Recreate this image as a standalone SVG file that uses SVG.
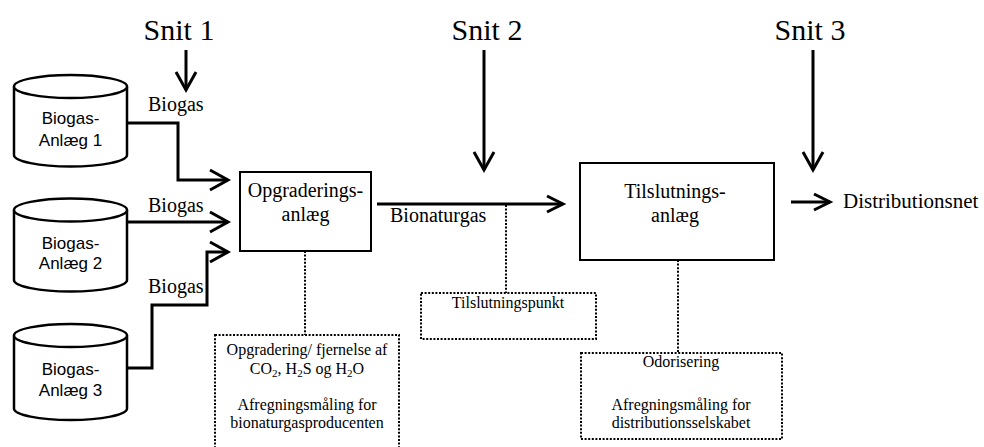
<svg xmlns="http://www.w3.org/2000/svg" width="984" height="447" viewBox="0 0 984 447">
<style>
.serif{font-family:"Liberation Serif","Times New Roman",serif;fill:#000}
.sans{font-family:"Liberation Sans",Arial,sans-serif;fill:#000;font-size:17px}
.snit{font-size:30px}
.lbl{font-size:20px}
.note{font-size:16px}
.box{fill:#fff;stroke:#000;stroke-width:2}
.cyl{fill:#fff;stroke:#000;stroke-width:2.5}
.dot{fill:none;stroke:#000;stroke-width:2;stroke-dasharray:2 1.6}
.con{fill:none;stroke:#000;stroke-width:3}
</style>
<defs>
<marker id="chev" viewBox="0 0 24 24" refX="20" refY="12" markerWidth="24" markerHeight="24" markerUnits="userSpaceOnUse" orient="auto" overflow="visible">
<path d="M2,2 L20,12 L2,22" fill="none" stroke="#000" stroke-width="3"/>
</marker>
<marker id="sm" viewBox="0 0 24 24" refX="20" refY="12" markerWidth="24" markerHeight="24" markerUnits="userSpaceOnUse" orient="auto" overflow="visible">
<path d="M4,4 L20,12 L4,20" fill="none" stroke="#000" stroke-width="3"/>
</marker>
</defs>
<rect width="984" height="447" fill="#fff"/>

<g id="connectors">
<polyline class="con" points="127,123 178,123 178,180 228,180" marker-end="url(#chev)"/>
<polyline class="con" points="127,222 228,222" marker-end="url(#chev)"/>
<polyline class="con" points="127,368 152,368 152,305 207,305 207,252 228,252" marker-end="url(#chev)"/>
<line class="con" x1="377" y1="204" x2="563" y2="204" marker-end="url(#sm)"/>
<line class="con" x1="791" y1="202" x2="830" y2="202" marker-end="url(#sm)"/>
<line class="con" x1="186" y1="50" x2="186" y2="90" marker-end="url(#chev)"/>
<line class="con" x1="484" y1="50" x2="484" y2="170" marker-end="url(#chev)"/>
<line class="con" x1="813" y1="50" x2="813" y2="170" marker-end="url(#chev)"/>
<line class="dot" x1="305" y1="251" x2="305" y2="335"/>
<line class="dot" x1="506" y1="205" x2="506" y2="293"/>
<line class="dot" x1="678" y1="260" x2="678" y2="353"/>
<text class="serif lbl" x="148" y="111">Biogas</text>
<text class="serif lbl" x="148" y="212">Biogas</text>
<text class="serif lbl" x="148" y="293">Biogas</text>
<text class="serif lbl" x="390" y="222">Bionaturgas</text>
</g>

<g id="snit1"><text class="serif snit" x="179" y="40" text-anchor="middle">Snit 1</text></g>
<g id="snit2"><text class="serif snit" x="487" y="40" text-anchor="middle">Snit 2</text></g>
<g id="snit3"><text class="serif snit" x="810" y="40" text-anchor="middle">Snit 3</text></g>

<g id="anlaeg1">
<path class="cyl" d="M14,86.5 L14,155 A56.5,11.5 0 0 0 127,155 L127,86.5"/>
<ellipse class="cyl" cx="70.5" cy="86.5" rx="56.5" ry="11.5"/>
<text class="sans" x="70.5" y="124" text-anchor="middle">Biogas-</text>
<text class="sans" x="70.5" y="146" text-anchor="middle">Anlæg 1</text>
</g>
<g id="anlaeg2">
<path class="cyl" d="M14,210 L14,280 A56.5,11.5 0 0 0 127,280 L127,210"/>
<ellipse class="cyl" cx="70.5" cy="210" rx="56.5" ry="11.5"/>
<text class="sans" x="70.5" y="249" text-anchor="middle">Biogas-</text>
<text class="sans" x="70.5" y="269" text-anchor="middle">Anlæg 2</text>
</g>
<g id="anlaeg3">
<path class="cyl" d="M14,335.5 L14,408.5 A56.5,11.5 0 0 0 127,408.5 L127,335.5"/>
<ellipse class="cyl" cx="70.5" cy="335.5" rx="56.5" ry="11.5"/>
<text class="sans" x="70.5" y="375" text-anchor="middle">Biogas-</text>
<text class="sans" x="70.5" y="396" text-anchor="middle">Anlæg 3</text>
</g>

<g id="opgraderingsanlaeg">
<rect class="box" x="240" y="172" width="131" height="79"/>
<text class="serif lbl" x="305.5" y="197" text-anchor="middle">Opgraderings-</text>
<text class="serif lbl" x="305.5" y="221" text-anchor="middle">anlæg</text>
</g>

<g id="tilslutningsanlaeg">
<rect class="box" x="580" y="163" width="194" height="97"/>
<text class="serif lbl" x="675" y="198" text-anchor="middle">Tilslutnings-</text>
<text class="serif lbl" x="675" y="222" text-anchor="middle">anlæg</text>
</g>

<g id="distributionsnet">
<text class="serif" font-size="21" x="843" y="208">Distributionsnet</text>
</g>

<g id="opgradering-note">
<rect class="dot" x="215" y="335" width="184" height="130"/>
<text class="serif note" x="307" y="355" text-anchor="middle">Opgradering/ fjernelse af</text>
<text class="serif note" x="307" y="374" text-anchor="middle">CO<tspan font-size="11" dy="3">2</tspan><tspan dy="-3">, H</tspan><tspan font-size="11" dy="3">2</tspan><tspan dy="-3">S og H</tspan><tspan font-size="11" dy="3">2</tspan><tspan dy="-3">O</tspan></text>
<text class="serif note" x="307" y="410" text-anchor="middle">Afregningsmåling for</text>
<text class="serif note" x="307" y="428" text-anchor="middle">bionaturgasproducenten</text>
</g>

<g id="tilslutningspunkt">
<rect class="dot" x="421" y="293" width="175" height="46"/>
<text class="serif note" x="508" y="308" text-anchor="middle">Tilslutningspunkt</text>
</g>

<g id="odorisering">
<rect class="dot" x="581" y="353" width="201" height="86"/>
<text class="serif note" x="681" y="367" text-anchor="middle">Odorisering</text>
<text class="serif note" x="681" y="410" text-anchor="middle">Afregningsmåling for</text>
<text class="serif note" x="681" y="428" text-anchor="middle">distributionsselskabet</text>
</g>
</svg>
